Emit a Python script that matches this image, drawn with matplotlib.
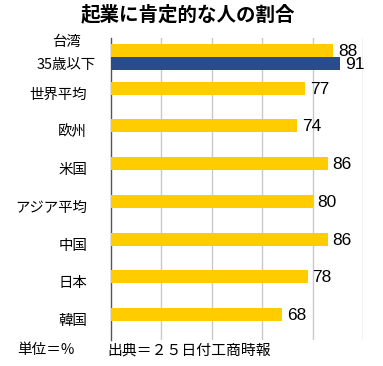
import matplotlib
matplotlib.use("Agg")
import matplotlib.pyplot as plt
import matplotlib.transforms as mtransforms

plt.rcParams['font.family'] = ['Noto Sans CJK JP', 'DejaVu Sans']

categories = ['台湾\n35歳以下', '世界平均', '欧州', '米国', 'アジア平均', '中国', '日本', '韓国']
overall = [88, 77, 74, 86, 80, 86, 78, 68]
under35 = [91, None, None, None, None, None, None, None]

yellow = '#FFCC00'
blue = '#2C4B8E'
num_font = ['Liberation Sans', 'DejaVu Sans']

W, H = 383, 366
fig = plt.figure(figsize=(W / 100, H / 100), dpi=100)
ax = fig.add_axes([111 / W, 1 - 340 / H, (363 - 111) / W, (340 - 38) / H])

h = 0.345
ys = list(range(len(categories)))
ax.barh([y - h / 2 for y in ys], overall, height=h, color=yellow, zorder=3)
blue_y = [y + h / 2 for y, v in zip(ys, under35) if v is not None]
blue_v = [v for v in under35 if v is not None]
ax.barh(blue_y, blue_v, height=h, color=blue, zorder=3)

for y, v in zip(ys, overall):
    ax.annotate(str(v), (v, y - h / 2), xytext=(5, -1), textcoords='offset pixels',
                ha='left', va='center', fontsize=12.5, family=num_font)
for y, v in zip(blue_y, blue_v):
    ax.annotate(str(v), (v, y), xytext=(5, -1), textcoords='offset pixels',
                ha='left', va='center', fontsize=12.5, family=num_font)

ax.set_xlim(0, 100)
ax.set_ylim(len(categories) - 0.5, -0.5)
ax.set_xticks([20, 40, 60, 80, 100])
ax.grid(axis='x', color='#C8C8C8', linewidth=1, zorder=0)
ax.tick_params(left=False, bottom=False, labelbottom=False, labelleft=False)
for s in ['top', 'right', 'bottom']:
    ax.spines[s].set_visible(False)
ax.spines['left'].set_color('#555555')
ax.spines['left'].set_linewidth(1)

# category labels
trans = mtransforms.blended_transform_factory(fig.transFigure, ax.transData)
for y, lab in zip(ys, categories):
    if '\n' in lab:
        top, bottom = lab.split('\n')
        fig.text(66 / W, 1 - 42 / H, top, ha='center', va='center', fontsize=10.4)
        fig.text(66 / W, 1 - 65 / H, bottom, ha='center', va='center', fontsize=10.4)
    else:
        ax.text(87 / W, y, lab, transform=trans, ha='right', va='center', fontsize=10.4)

fig.text(188 / W, 1 - 14 / H, '起業に肯定的な人の割合', ha='center', va='center',
         fontsize=14, fontweight='bold')
fig.text(17 / W, 1 - 350 / H, '単位＝%', ha='left', va='center', fontsize=10.5)
fig.text(107 / W, 1 - 350 / H, '出典＝２５日付工商時報', ha='left', va='center', fontsize=10.7)

fig.savefig('out.png', dpi=100)
